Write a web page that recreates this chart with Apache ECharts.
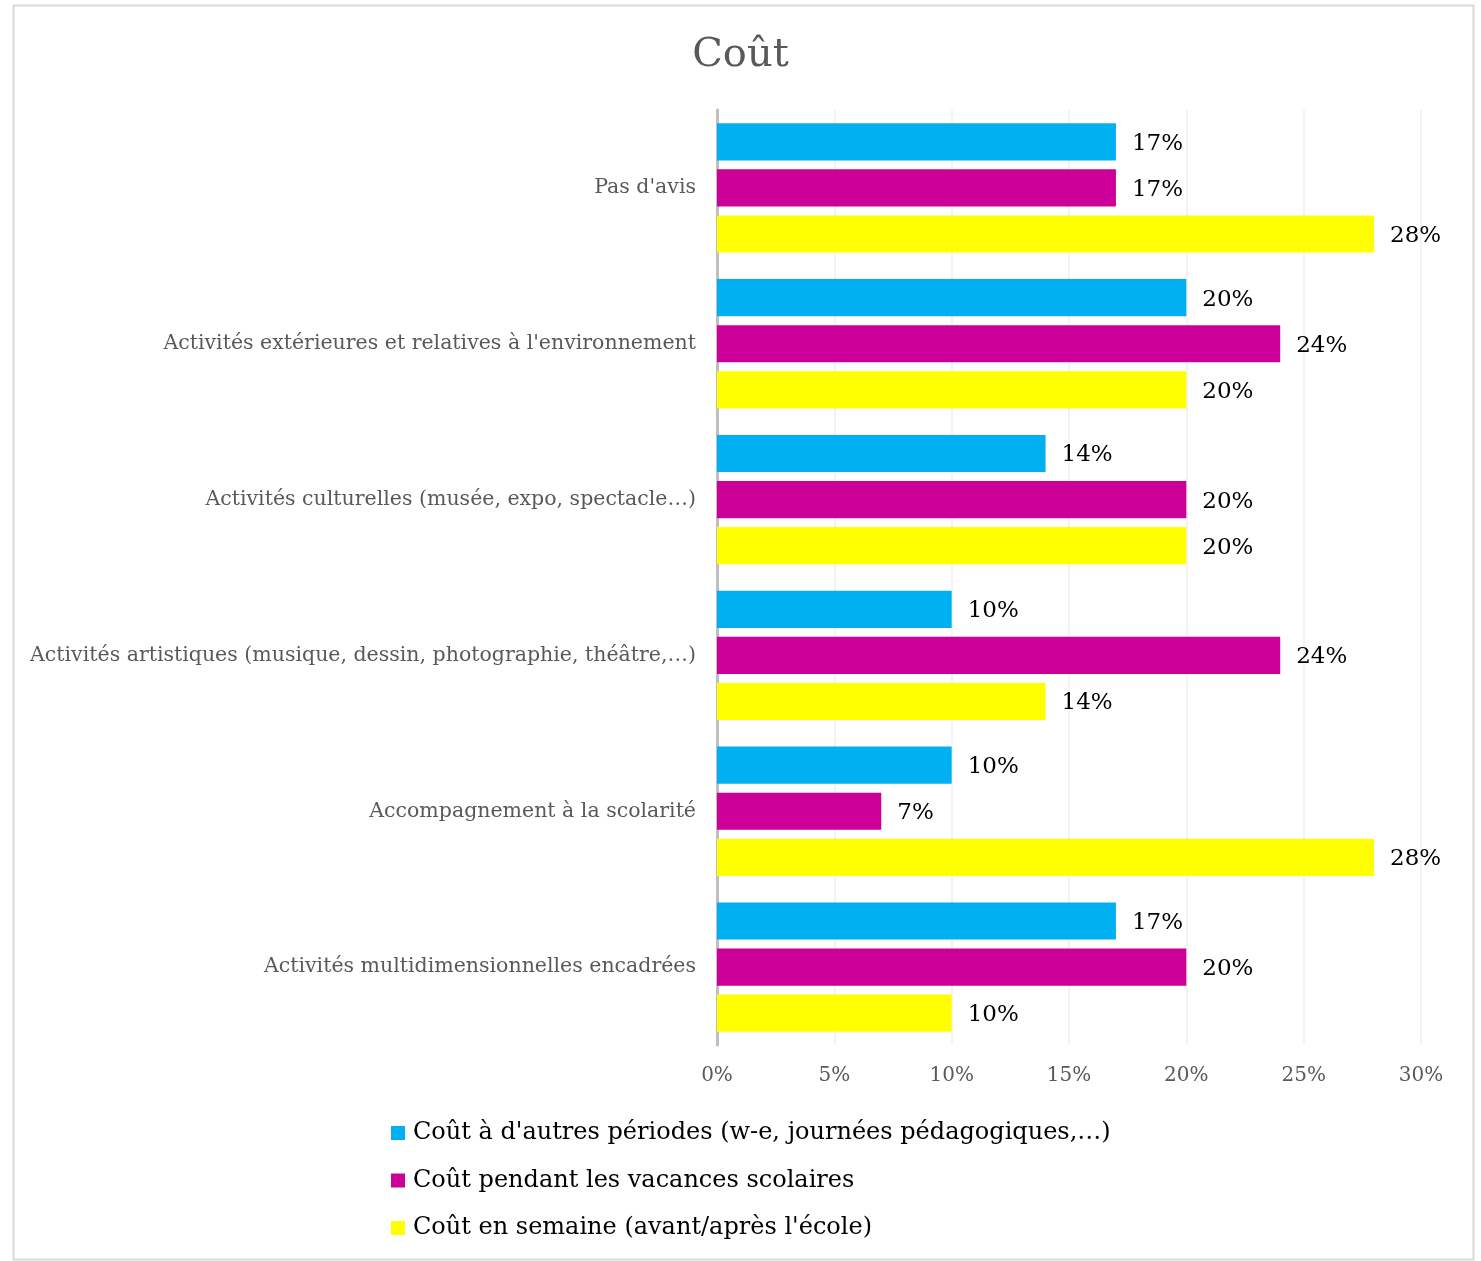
<!DOCTYPE html>
<html>
<head>
<meta charset="utf-8">
<script src="https://cdn.jsdelivr.net/npm/echarts@6/dist/echarts.min.js"></script>
<style>
  html, body { margin: 0; padding: 0; background: #fff; }
  #chart { width: 1481px; height: 1261px; }
</style>
</head>
<body>
<div id="chart"></div>
<script>
// categories, bottom to top (ECharts draws the first category at the bottom)
const categories = [
  'Activités multidimensionnelles encadrées',
  'Accompagnement à la scolarité',
  'Activités artistiques (musique, dessin, photographie, théâtre,…)',
  'Activités culturelles (musée, expo, spectacle…)',
  "Activités extérieures et relatives à l'environnement",
  "Pas d'avis"
]
const seriesNames = [
  "Coût à d'autres périodes (w-e, journées pédagogiques,…)",
  'Coût pendant les vacances scolaires',
  "Coût en semaine (avant/après l'école)"
]
const autresPeriodes = [17, 10, 10, 14, 20, 17]
const vacances = [20, 7, 24, 20, 24, 17]
const semaine = [10, 28, 14, 20, 20, 28]
const xTicks = [0, 5, 10, 15, 20, 25, 30]

const colors = ['#00b0f0', '#cc0099', '#ffff00']
const font = '"DejaVu Serif", "Liberation Serif", serif'

let mychart = echarts.init(document.getElementById('chart'))

function barSeries(name, data, color) {
  return {
    name: name,
    type: 'bar',
    data: data,
    barGap: '24%',
    barCategoryGap: '17%',
    itemStyle: { color: color },
    label: {
      show: true,
      position: 'right',
      distance: 16,
      offset: [0, 2],
      formatter: '{c}%',
      color: '#000',
      fontFamily: font,
      fontSize: 23
    }
  }
}

mychart.setOption({
  animation: false,
  title: {
    text: 'Coût',
    left: 'center',
    top: 31,
    textStyle: { color: '#595959', fontFamily: font, fontSize: 40, fontWeight: 'normal' }
  },
  graphic: [{
    type: 'rect',
    shape: { x: 13.5, y: 5.5, width: 1460, height: 1254 },
    style: { fill: 'none', stroke: '#d9d9d9', lineWidth: 2 },
    z: -1
  }],
  grid: { left: 717, right: 60, top: 110, bottom: 216 },
  xAxis: {
    type: 'value',
    min: xTicks[0],
    max: xTicks[xTicks.length - 1],
    interval: 5,
    axisLine: { show: false },
    axisTick: { show: false },
    splitLine: { lineStyle: { color: '#efefef', width: 1.5 } },
    axisLabel: {
      formatter: '{value}%',
      color: '#595959',
      fontFamily: font,
      fontSize: 20,
      margin: 21
    }
  },
  yAxis: {
    type: 'category',
    data: categories,
    axisLine: { show: true, lineStyle: { color: '#bfbfbf', width: 3 } },
    axisTick: { show: false },
    axisLabel: {
      color: '#595959',
      fontFamily: font,
      fontSize: 20.5,
      margin: 21,
      padding: [3, 0, 0, 0]
    }
  },
  legend: {
    data: seriesNames,
    orient: 'vertical',
    left: 386,
    top: 1116,
    itemWidth: 14,
    itemHeight: 14,
    itemGap: 23.5,
    icon: 'rect',
    textStyle: { color: '#000', fontFamily: font, fontSize: 24, lineHeight: 24, padding: [0, 0, 0, 3] }
  },
  // first series is drawn at the top of each group
  series: [
    barSeries(seriesNames[0], autresPeriodes, colors[0]),
    barSeries(seriesNames[1], vacances, colors[1]),
    barSeries(seriesNames[2], semaine, colors[2])
  ]
})
</script>
</body>
</html>
